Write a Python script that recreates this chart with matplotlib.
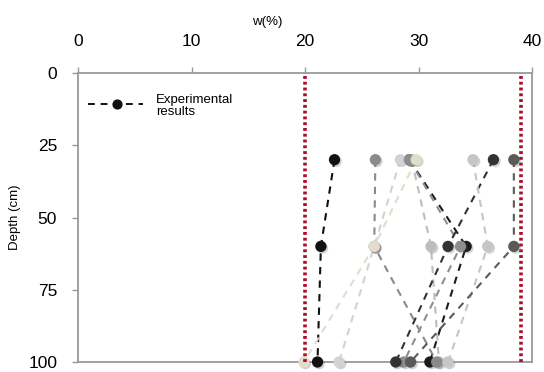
import matplotlib
matplotlib.use("Agg")
import matplotlib.pyplot as plt
import matplotlib.patheffects as pe

plt.rcParams["font.family"] = ["Liberation Sans", "DejaVu Sans"]

# Water content profiles: depth (cm) vs w (%)
depths = [30, 60, 100]
profiles = {
    "p8": [29.2, 34.2, 31.0],
    "p6": [29.4, 31.1, 31.8],
    "p1": [22.6, 21.4, 21.1],
    "p2": [26.2, 26.1, 31.6],
    "p3": [28.4, 26.1, 23.0],
    "p5": [29.2, 33.7, 28.7],
    "p4": [29.8, 26.1, 19.9],
    "p7": [36.6, 32.6, 28.0],
    "p9": [34.8, 36.1, 32.6],
    "p10": [38.4, 38.4, 29.3],
}
shades = {
    "p1": "#111111",
    "p2": "#8a8a8a",
    "p3": "#d2d2d2",
    "p4": "#e4dccb",
    "p5": "#8e8e8e",
    "p6": "#bdbdbd",
    "p7": "#333333",
    "p8": "#1c1c1c",
    "p9": "#c6c6c6",
    "p10": "#5a5a5a",
}
limits = [20, 39]  # plastic / liquid limit

fig = plt.figure(figsize=(5.44, 3.72), dpi=100)
ax = fig.add_axes([78 / 544, 1 - 362 / 372, 454 / 544, 289 / 372])

shadow = [pe.SimplePatchShadow(offset=(1.2, -1.2), shadow_rgbFace=(0.3, 0.3, 0.3),
                               alpha=0.25),
          pe.Normal()]

for name, w in profiles.items():
    c = shades[name]
    ax.plot(w, depths, color=c, lw=1.5, linestyle=(0, (3.5, 3)), zorder=2)
    ax.scatter(w, depths, s=66, color=c, edgecolors="none", zorder=3,
               clip_on=False, path_effects=shadow)

for lim in limits:
    ax.axvline(lim, color="#a8102e", lw=2.6, linestyle=(0, (0.8, 0.8)), zorder=4)

# legend entry drawn by hand
ax.plot([0.9, 5.7], [10.7, 10.7], color="#111111", lw=1.4, linestyle=(0, (3.5, 3)))
ax.scatter([3.45], [10.7], s=40, color="#111111", zorder=3)
ax.text(6.9, 11.4, "Experimental\nresults", fontsize=9.5, va="center", ha="left",
        linespacing=1.0)

ax.set_xlim(0, 40)
ax.set_ylim(100, 0)
ax.set_xticks([0, 10, 20, 30, 40])
ax.set_yticks([0, 25, 50, 75, 100])
ax.xaxis.tick_top()
ax.tick_params(axis="both", labelsize=12.5, color="#999999", length=4,
               width=1, direction="out")
ax.tick_params(axis="x", pad=13)
ax.tick_params(axis="y", pad=11)
for side in ax.spines.values():
    side.set_color("#9a9a9a")
    side.set_linewidth(1.3)

fig.text(267 / 544, 1 - 22 / 372, "w(%)", fontsize=9.5, ha="center", va="center")
ax.set_ylabel("Depth (cm)", fontsize=9.5, labelpad=5)

fig.savefig("out.png", dpi=100)
